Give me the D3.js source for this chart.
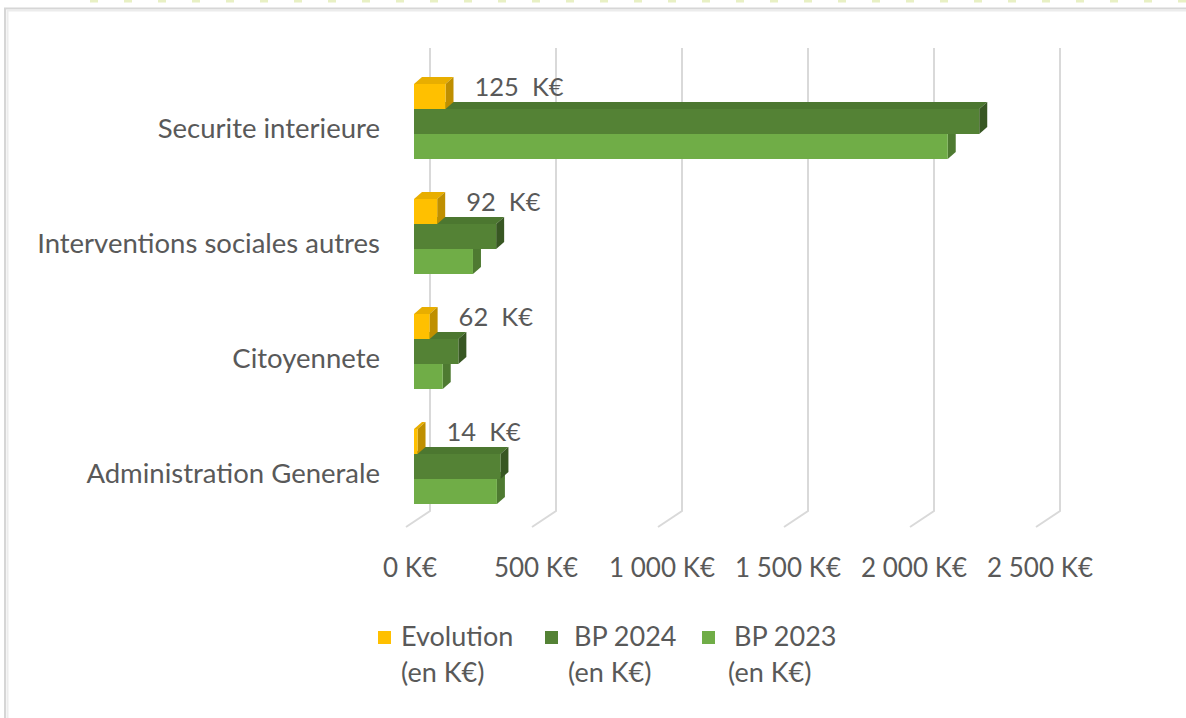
<!DOCTYPE html>
<html><head><meta charset="utf-8">
<script src="https://cdn.jsdelivr.net/npm/d3@7"></script>
<style>
html,body{margin:0;padding:0;background:#fff;}
svg{display:block;font-family:Lato,"Open Sans",sans-serif;}
</style></head>
<body>
<svg id="chart" width="1186" height="718"></svg>
<script>
const categories = ["Securite interieure", "Interventions sociales autres", "Citoyennete", "Administration Generale"];
const seriesNames = ["Evolution", "BP 2024", "BP 2023"];
const evolution = [125, 92, 62, 14];
const bp2024 = [2243, 326, 176, 343];
const bp2023 = [2118, 234, 114, 329];
const tickValues = [0, 500, 1000, 1500, 2000, 2500];
const legendLine2 = "(en K€)";

const colors = {
  "Evolution": {front: "#FFC000", top: "#E8AE00", side: "#BF8F00"},
  "BP 2024": {front: "#548235", top: "#4C7730", side: "#385723"},
  "BP 2023": {front: "#70AD47", top: "#66A040", side: "#4E7A31"}
};
const textColor = "#595959";

const svg = d3.select("#chart");

// page decoration (dashes at very top) and frame
svg.append("line").attr("x1", 90).attr("x2", 1186).attr("y1", 1).attr("y2", 1)
  .attr("stroke", "#e8f0c4").attr("stroke-width", 3).attr("stroke-dasharray", "8,26");
svg.append("rect").attr("x", 5).attr("y", 8.5).attr("width", 1200).attr("height", 720)
  .attr("fill", "none").attr("stroke", "#d6d6d6").attr("stroke-width", 2);
svg.append("rect").attr("x", 7.5).attr("y", 10.5).attr("width", 1200).attr("height", 720)
  .attr("fill", "none").attr("stroke", "#ececec").attr("stroke-width", 2);

const series = [
  {name: "Evolution", values: evolution},
  {name: "BP 2024", values: bp2024},
  {name: "BP 2023", values: bp2023}
];

// scales
const xFront = d3.scaleLinear().domain([0, 2500]).range([406, 1036]);
const xBar = d3.scaleLinear().domain([0, 2500]).range([414, 1044]);
const wallDX = 24, wallDY = -16;
const barDX = 8, barDY = -7;
const floorY = 527, wallTop = 48;

const yCat = d3.scaleBand().domain(categories).range([64, 524])
  .paddingInner(40 / 115).paddingOuter(20 / 115);
const ySer = d3.scaleBand().domain(seriesNames).range([0, yCat.bandwidth()]);

// gridlines (back wall + floor diagonal)
const grid = svg.append("g");
tickValues.forEach(v => {
  const xf = xFront(v), xb = xf + wallDX, yb = floorY + wallDY;
  grid.append("path")
    .attr("d", `M${xb},${wallTop} L${xb},${yb} L${xf},${floorY}`)
    .attr("fill", "none").attr("stroke", "#d9d9d9").attr("stroke-width", 2);
});

// tick labels
const fmt = d3.formatLocale({decimal: ",", thousands: "\u00a0", grouping: [3], currency: ["", ""]}).format(",d");
svg.append("g").selectAll("text").data(tickValues).join("text")
  .attr("x", d => xFront(d) + 4).attr("y", 577)
  .attr("text-anchor", "middle").attr("fill", textColor).attr("font-size", 26)
  .style("white-space", "pre")
  .text(d => fmt(d) + " K€");

// bars: draw lower bars first (BP 2023, BP 2024, Evolution) per category
const barsG = svg.append("g");
categories.forEach((cat, ci) => {
  [...series].reverse().forEach(s => {
    const v = s.values[ci];
    const x0 = xBar(0), x1 = xBar(v);
    const y0 = yCat(cat) + ySer(s.name), y1 = y0 + ySer.bandwidth();
    const c = colors[s.name];
    const g = barsG.append("g");
    g.append("path").attr("d", `M${x0},${y0} L${x0 + barDX},${y0 + barDY} L${x1 + barDX},${y0 + barDY} L${x1},${y0} Z`)
      .attr("fill", c.top);
    g.append("path").attr("d", `M${x1},${y0} L${x1 + barDX},${y0 + barDY} L${x1 + barDX},${y1 + barDY} L${x1},${y1} Z`)
      .attr("fill", c.side);
    g.append("rect").attr("x", x0).attr("y", y0).attr("width", x1 - x0).attr("height", y1 - y0)
      .attr("fill", c.front);
  });
});

// data labels for Evolution
svg.append("g").selectAll("text").data(categories).join("text")
  .attr("x", (d, i) => xBar(evolution[i]) + barDX + 21)
  .attr("y", d => yCat(d) + ySer("Evolution") + 6)
  .attr("dominant-baseline", "middle")
  .attr("fill", textColor).attr("font-size", 25.5)
  .style("white-space", "pre")
  .text((d, i) => evolution[i] + "  K€");

// category labels
svg.append("g").selectAll("text").data(categories).join("text")
  .attr("x", 380).attr("y", d => yCat(d) + yCat.bandwidth() / 2 + 10)
  .attr("text-anchor", "end").attr("dominant-baseline", "middle")
  .attr("fill", textColor).attr("font-size", 27.5)
  .text(d => d);

// legend
const legendX = [378, 545, 702];
const legendTextX = [401, 568, 728];
const leg = svg.append("g");
series.forEach((s, i) => {
  leg.append("rect").attr("x", legendX[i]).attr("y", 631).attr("width", 13).attr("height", 13)
    .attr("fill", colors[s.name].front);
  leg.append("text").attr("x", legendTextX[i] + (i > 0 ? 6 : 0)).attr("y", 646)
    .attr("fill", textColor).attr("font-size", 27).text(s.name);
  leg.append("text").attr("x", legendTextX[i]).attr("y", 682)
    .attr("fill", textColor).attr("font-size", 27).text(legendLine2);
});
</script>
</body></html>
